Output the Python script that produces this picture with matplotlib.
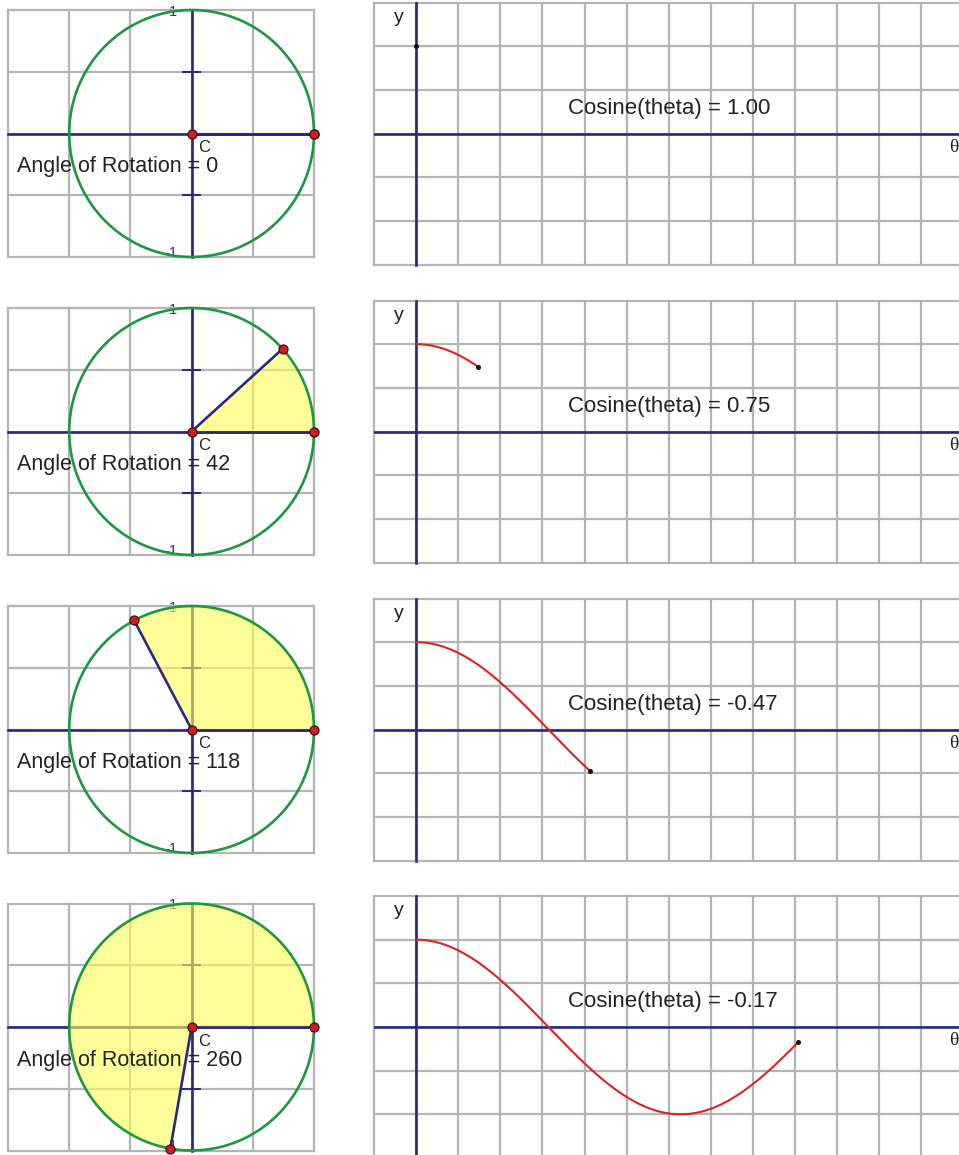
import numpy as np
import matplotlib
matplotlib.use("Agg")
import matplotlib.pyplot as plt
from matplotlib.patches import Wedge

# ---- data ----
angles_deg = [0, 42, 118, 260]
cos_labels = ["1.00", "0.75", "-0.47", "-0.17"]
circle_ticks = ["1", "-1"]

W, H = 959, 1155
fig = plt.figure(figsize=(W / 100, H / 100), dpi=100)
plt.rcParams['font.family'] = ['Liberation Sans', 'DejaVu Sans']

NAVY = '#2a2883'
GRID = '#b4b4b4'
GREEN = '#1e9642'
RED = '#dd2222'

row_centers = [133.5, 431.5, 729.5, 1027.0]


def px_axes(x0, x1, yc, half):
    return fig.add_axes([x0 / W, 1 - (yc + half) / H, (x1 - x0) / W, 2 * half / H])


for i, ang in enumerate(angles_deg):
    yc = row_centers[i]
    th = np.radians(ang)

    # ---------------- left: unit circle ----------------
    ax = px_axes(8, 314, yc, 123.5)
    ax.set_xlim(-1.5, 1.0)
    ax.set_ylim(-1.0, 1.0)
    ax.axis('off')
    ax.text(-0.15, 0.985, circle_ticks[0], fontsize=10.5, color='#333355',
            ha='center', va='center', zorder=0.5)
    ax.text(-0.17, -0.965, circle_ticks[1], fontsize=10.5, color='#333355',
            ha='center', va='center', zorder=0.5)
    for gx in np.arange(-1.5, 1.01, 0.5):
        ax.plot([gx, gx], [-1, 1], color=GRID, lw=1.6, zorder=1, clip_on=False)
    for gy in np.arange(-1.0, 1.01, 0.5):
        ax.plot([-1.5, 1.0], [gy, gy], color=GRID, lw=1.6, zorder=1, clip_on=False)
    # axes
    ax.plot([-1.5, 1.0], [0, 0], color=NAVY, lw=1.9, zorder=2, clip_on=False)
    ax.plot([0, 0], [-1, 1], color=NAVY, lw=1.9, zorder=2, clip_on=False)
    for ty in (0.5, -0.5):
        ax.plot([-0.07, 0.07], [ty, ty], color=NAVY, lw=1.4, zorder=2)
    # sector fill
    if ang > 0:
        w = Wedge((0, 0), 1.0, 0, ang, facecolor='#ffff55', edgecolor='none',
                  alpha=0.6, zorder=3)
        ax.add_patch(w)
    # circle
    t = np.linspace(0, 2 * np.pi, 400)
    ax.plot(np.cos(t), np.sin(t), color=GREEN, lw=1.9, zorder=4, clip_on=False)
    # radii
    ax.plot([0, 1], [0, 0], color=NAVY, lw=1.9, zorder=5)
    ax.plot([0, np.cos(th)], [0, np.sin(th)], color=NAVY, lw=1.9, zorder=5, clip_on=False)
    # points
    pts_x = [0, 1, np.cos(th)]
    pts_y = [0, 0, np.sin(th)]
    ax.plot(pts_x, pts_y, 'o', ms=6.5, mfc='#cc2020', mec='#4a0a0a', mew=0.9,
            zorder=6, clip_on=False)
    ax.text(0.055, -0.115, 'C', fontsize=12, color='#222222', ha='left', va='center', zorder=7)
    ax.text(-1.43, -0.27, f'Angle of Rotation = {ang}', fontsize=15.5,
            color='#222222', ha='left', va='center', zorder=7)

    # ---------------- right: cosine graph ----------------
    bx = px_axes(374, 959, yc, 131)
    x_per_px = 0.5 / 42.1
    bx.set_xlim(-0.5, -0.5 + (959 - 374) * x_per_px)
    bx.set_ylim(-1.5, 1.5)
    bx.axis('off')
    for gx in np.arange(-0.5, 7.01, 0.5):
        bx.plot([gx, gx], [-1.5, 1.5], color=GRID, lw=1.6, zorder=1, clip_on=False)
    for gy in np.arange(-1.5, 1.51, 0.5):
        bx.plot([-0.5, 7.5], [gy, gy], color=GRID, lw=1.6, zorder=1, clip_on=False)
    bx.axhline(0, color=NAVY, lw=1.9, zorder=2)
    bx.plot([0, 0], [-1.5, 1.5], color=NAVY, lw=1.9, zorder=2, clip_on=False)
    if ang > 0:
        tt = np.linspace(0, th, 300)
        bx.plot(tt, np.cos(tt), color=RED, lw=1.5, zorder=3)
    bx.plot([th], [np.cos(th)], 'o', ms=2.6, color='#111111', zorder=4)
    bx.text(-0.2, 1.33, 'y', fontsize=14, color='#222222', ha='center', va='center', zorder=5)
    bx.text(6.39, -0.16, 'θ', fontsize=14, color='#222222', ha='center', va='center',
            family=['Liberation Serif', 'DejaVu Serif'], zorder=5)
    bx.text(1.80, 0.29, f'Cosine(theta) = {cos_labels[i]}', fontsize=16,
            color='#222222', ha='left', va='center', zorder=5)

fig.savefig('out.png', dpi=100, facecolor='white')
